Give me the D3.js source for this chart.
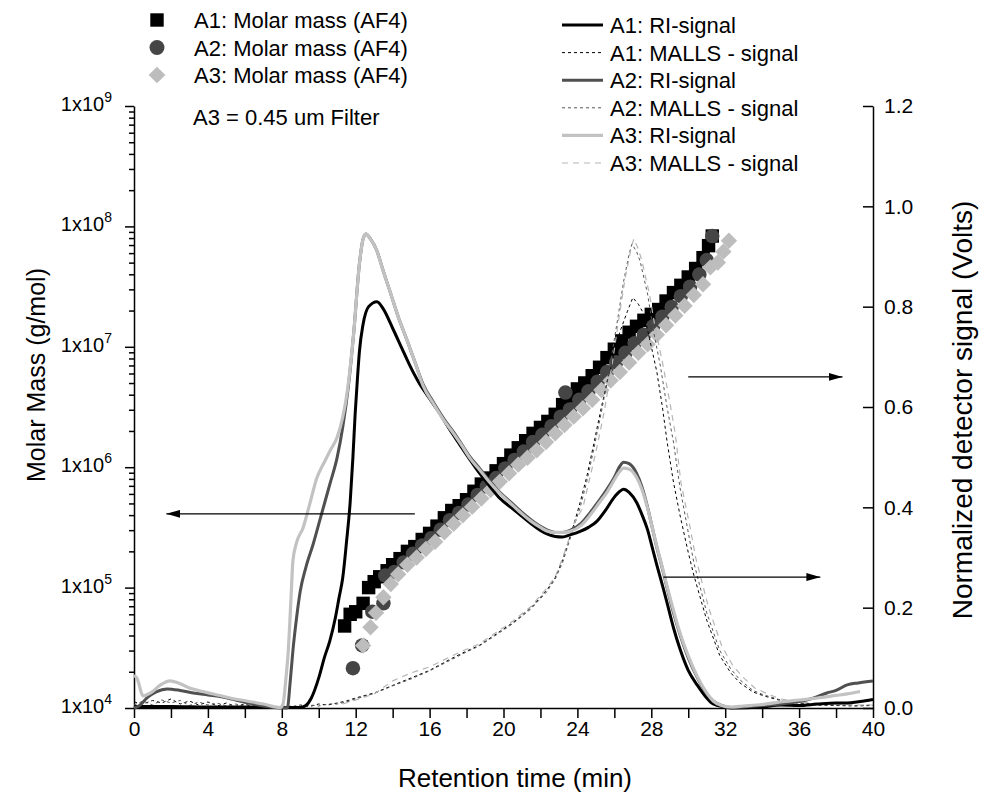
<!DOCTYPE html>
<html><head><meta charset="utf-8">
<script src="https://cdn.jsdelivr.net/npm/d3@7"></script>
<style>body{margin:0;background:#fff}svg{display:block}text{font-family:"Liberation Sans",Arial,sans-serif;fill:#000}</style>
</head><body><svg id="c" width="982" height="803"></svg>
<script>
// ---------- DATA ----------
const xTicks = [0,4,8,12,16,20,24,28,32,36,40];
const rightTicks = [0.0,0.2,0.4,0.6,0.8,1.0,1.2];
const leftExps = [4,5,6,7,8,9];

// Molar mass (AF4) points: [time(min), molar mass (g/mol)]
const massA1 = [[11.4,4.8e4],[11.7,6.0e4],[12.0,6.3e4],[12.4,7.4e4],[12.7,1.0e5],[13.0,1.12e5],[13.3,1.23e5],[13.7,1.38e5],[14.0,1.55e5],[14.4,1.74e5],[14.8,2.0e5],[15.2,2.19e5],[15.6,2.51e5],[16.0,2.82e5],[16.4,3.24e5],[16.8,3.8e5],[17.2,4.37e5],[17.6,4.79e5],[18.0,5.37e5],[18.4,6.31e5],[18.8,7.24e5],[19.2,8.13e5],[19.6,9.33e5],[20.0,1.07e6],[20.4,1.26e6],[20.8,1.45e6],[21.2,1.66e6],[21.6,1.91e6],[22.0,2.14e6],[22.4,2.4e6],[22.8,2.75e6],[23.2,3.31e6],[23.6,3.89e6],[24.0,4.47e6],[24.4,5.01e6],[24.8,5.75e6],[25.2,6.76e6],[25.6,8.13e6],[26.0,9.55e6],[26.4,1.12e7],[26.8,1.32e7],[27.2,1.48e7],[27.6,1.66e7],[28.0,1.86e7],[28.4,2.04e7],[28.8,2.4e7],[29.2,2.82e7],[29.6,3.24e7],[30.0,3.8e7],[30.4,4.47e7],[30.8,5.5e7],[31.1,6.92e7],[31.3,8.32e7]];
const massA2 = [[11.85,2.14e4],[12.35,3.31e4],[12.9,6.31e4],[13.5,7.41e4],[13.6,1.26e5],[14.1,1.35e5],[14.6,1.62e5],[15.1,1.91e5],[15.6,2.24e5],[16.1,2.57e5],[16.6,3.02e5],[17.1,3.63e5],[17.6,4.17e5],[18.1,4.9e5],[18.6,5.89e5],[19.1,6.92e5],[19.6,8.13e5],[20.1,9.77e5],[20.6,1.15e6],[21.1,1.35e6],[21.6,1.62e6],[22.1,1.86e6],[22.6,2.19e6],[23.1,2.63e6],[23.35,4.17e6],[23.6,3.02e6],[24.1,3.63e6],[24.6,4.27e6],[25.1,5.13e6],[25.6,6.17e6],[26.1,7.41e6],[26.6,8.91e6],[27.1,1.07e7],[27.6,1.26e7],[28.1,1.48e7],[28.6,1.78e7],[29.1,2.14e7],[29.6,2.63e7],[30.1,3.16e7],[30.6,3.98e7],[31.0,5.25e7],[31.3,8.32e7]];
const massA3 = [[12.4,3.31e4],[12.8,4.68e4],[13.1,6.17e4],[13.5,8.32e4],[13.9,1.07e5],[14.3,1.29e5],[14.8,1.55e5],[15.3,1.78e5],[15.8,2.09e5],[16.3,2.4e5],[16.8,2.88e5],[17.3,3.39e5],[17.8,3.98e5],[18.3,4.68e5],[18.8,5.5e5],[19.3,6.46e5],[19.8,7.59e5],[20.3,8.91e5],[20.8,1.05e6],[21.3,1.2e6],[21.8,1.38e6],[22.3,1.62e6],[22.8,1.91e6],[23.3,2.24e6],[23.8,2.63e6],[24.3,3.09e6],[24.8,3.63e6],[25.3,4.37e6],[25.8,5.25e6],[26.3,6.17e6],[26.8,7.41e6],[27.3,8.91e6],[27.8,1.05e7],[28.3,1.26e7],[28.8,1.51e7],[29.3,1.82e7],[29.8,2.19e7],[30.3,2.69e7],[30.8,3.31e7],[31.2,4.57e7],[31.6,5.01e7],[31.9,6.17e7],[32.2,7.59e7]];

// RI signals: [time, volts]
const riA1 = [[0,0.003],[2,0.003],[4,0.002],[6,0.002],[8,0.001],[9.0,0.001],[9.3,0.005],[9.6,0.02],[10.0,0.06],[10.3,0.1],[10.6,0.134],[10.9,0.18],[11.1,0.22],[11.3,0.26],[11.5,0.33],[11.7,0.41],[11.85,0.5],[11.97,0.586],[12.1,0.66],[12.2,0.71],[12.4,0.765],[12.7,0.80],[13.15,0.81],[13.5,0.795],[14.0,0.757],[14.5,0.717],[14.9,0.685],[15.4,0.65],[15.9,0.622],[16.5,0.59],[17.0,0.56],[17.65,0.524],[18.2,0.494],[18.7,0.468],[19.3,0.44],[19.8,0.418],[20.5,0.397],[21.0,0.382],[21.5,0.367],[22.0,0.354],[22.35,0.347],[22.8,0.342],[23.2,0.341],[23.6,0.345],[24.15,0.352],[24.6,0.36],[25.05,0.372],[25.5,0.393],[25.95,0.418],[26.3,0.432],[26.5,0.436],[26.8,0.43],[27.2,0.41],[27.5,0.385],[27.8,0.355],[28.05,0.32],[28.3,0.285],[28.6,0.245],[28.85,0.21],[29.2,0.16],[29.55,0.118],[30.0,0.075],[30.5,0.045],[31.0,0.02],[31.35,0.008],[32.0,0.002],[32.3,0.0],[34,0.002],[35,0.006],[36,0.005],[37,0.008],[38,0.01],[38.6,0.01],[39.3,0.013],[40,0.017]];
const riA2 = [[0,0.0],[0.3,0.005],[0.7,0.02],[1.2,0.032],[1.8,0.038],[2.5,0.035],[3.2,0.03],[4.0,0.026],[4.8,0.022],[5.5,0.016],[6.2,0.01],[7.0,0.004],[7.9,0.0],[8.3,0.0],[8.45,0.05],[8.6,0.114],[8.8,0.18],[9.0,0.233],[9.3,0.28],[9.7,0.327],[10.1,0.38],[10.6,0.446],[11.0,0.50],[11.3,0.56],[11.6,0.64],[11.9,0.751],[12.2,0.885],[12.4,0.935],[12.55,0.945],[12.8,0.935],[13.15,0.911],[13.5,0.87],[13.85,0.831],[14.3,0.78],[14.8,0.731],[15.2,0.69],[15.65,0.645],[16.2,0.61],[16.8,0.575],[17.3,0.55],[17.8,0.522],[18.2,0.5],[18.7,0.478],[19.2,0.455],[19.8,0.43],[20.5,0.407],[21.0,0.39],[21.5,0.375],[22.0,0.362],[22.35,0.355],[22.8,0.35],[23.2,0.35],[23.6,0.354],[24.2,0.368],[24.7,0.39],[25.2,0.415],[25.6,0.436],[26.0,0.46],[26.3,0.482],[26.5,0.49],[26.8,0.487],[27.2,0.468],[27.5,0.44],[27.8,0.40],[28.05,0.36],[28.3,0.32],[28.6,0.278],[28.85,0.24],[29.2,0.19],[29.55,0.147],[30.0,0.1],[30.5,0.06],[31.0,0.028],[31.35,0.014],[31.8,0.005],[32.3,0.001],[33,0.002],[34,0.005],[35,0.008],[36,0.013],[36.8,0.02],[37.5,0.03],[38.0,0.035],[38.6,0.046],[39.2,0.05],[40,0.054]];
const riA3 = [[0,0.065],[0.15,0.06],[0.5,0.024],[0.9,0.03],[1.4,0.045],[1.95,0.054],[2.4,0.05],[3.0,0.04],[3.6,0.034],[4.3,0.028],[5.2,0.02],[6.1,0.014],[7.0,0.008],[7.9,0.001],[8.07,0.008],[8.2,0.05],[8.35,0.114],[8.5,0.22],[8.6,0.293],[8.8,0.33],[9.15,0.359],[9.5,0.405],[9.9,0.459],[10.3,0.49],[10.6,0.512],[11.0,0.54],[11.3,0.58],[11.5,0.62],[11.9,0.751],[12.2,0.885],[12.4,0.935],[12.55,0.945],[12.8,0.935],[13.15,0.911],[13.5,0.87],[13.85,0.831],[14.3,0.78],[14.8,0.731],[15.2,0.69],[15.65,0.642],[16.2,0.607],[16.8,0.572],[17.3,0.547],[17.8,0.52],[18.2,0.497],[18.7,0.475],[19.2,0.452],[19.8,0.428],[20.5,0.404],[21.0,0.387],[21.5,0.372],[22.0,0.36],[22.35,0.353],[22.8,0.35],[23.2,0.35],[23.6,0.352],[24.2,0.364],[24.7,0.385],[25.2,0.41],[25.6,0.43],[26.0,0.455],[26.3,0.472],[26.5,0.478],[26.8,0.476],[27.2,0.46],[27.5,0.435],[27.8,0.398],[28.05,0.36],[28.3,0.322],[28.6,0.28],[28.85,0.243],[29.2,0.195],[29.55,0.15],[30.0,0.104],[30.5,0.062],[31.0,0.03],[31.35,0.014],[31.8,0.005],[32.3,0.002],[33,0.004],[34,0.007],[35,0.012],[36,0.016],[37,0.02],[38,0.025],[38.6,0.028],[39.3,0.033]];

// MALLS signals: [time, volts]
const mallsA1 = [[0,0.012],[0.5,0.008],[1,0.015],[1.5,0.01],[2,0.018],[2.5,0.008],[3,0.014],[3.5,0.006],[4,0.012],[4.5,0.004],[5,0.01],[5.5,0.003],[6,0.008],[6.5,0.002],[7,0.006],[7.5,0.001],[8,0.004],[8.5,0.002],[9,0.006],[9.5,0.003],[10,0.008],[10.5,0.006],[11,0.01],[11.5,0.014],[12,0.02],[13,0.03],[14,0.045],[15,0.06],[16,0.075],[17,0.095],[17.8,0.11],[18.7,0.125],[19.5,0.145],[20.5,0.17],[21.5,0.2],[22.35,0.235],[22.8,0.26],[23.2,0.295],[23.5,0.33],[23.8,0.365],[24.15,0.41],[24.5,0.46],[24.85,0.52],[25.3,0.6],[25.8,0.68],[26.3,0.75],[26.7,0.79],[27.0,0.818],[27.3,0.805],[27.6,0.785],[27.9,0.737],[28.3,0.67],[28.6,0.6],[28.85,0.532],[29.2,0.45],[29.55,0.385],[30.0,0.31],[30.3,0.265],[31.0,0.175],[31.7,0.105],[32.3,0.07],[32.8,0.05],[33.5,0.032],[34.1,0.024],[35,0.015],[35.9,0.01],[37,0.006],[38,0.005],[39,0.004],[40,0.005]];
const mallsA2 = [[0,0.006],[0.5,0.014],[1,0.006],[1.5,0.016],[2,0.01],[2.5,0.015],[3,0.005],[3.5,0.012],[4,0.006],[4.5,0.01],[5,0.004],[5.5,0.008],[6,0.003],[6.5,0.006],[7,0.002],[7.5,0.005],[8,0.001],[8.5,0.004],[9,0.002],[9.5,0.006],[10,0.004],[10.5,0.008],[11,0.008],[11.5,0.012],[12,0.018],[13,0.029],[14,0.044],[15,0.058],[16,0.074],[17,0.093],[17.8,0.108],[18.7,0.124],[19.5,0.143],[20.5,0.168],[21.5,0.198],[22.35,0.232],[22.8,0.257],[23.2,0.29],[23.5,0.325],[23.8,0.36],[24.15,0.40],[24.5,0.45],[24.85,0.51],[25.3,0.59],[25.8,0.69],[26.2,0.78],[26.5,0.85],[26.8,0.905],[26.95,0.925],[27.2,0.91],[27.4,0.89],[27.8,0.825],[28.1,0.755],[28.5,0.68],[28.85,0.6],[29.2,0.53],[29.55,0.44],[30.0,0.35],[30.3,0.29],[31.0,0.19],[31.7,0.115],[32.3,0.078],[32.8,0.056],[33.5,0.035],[34.1,0.026],[35,0.016],[36,0.01],[37,0.007],[38,0.006],[39,0.005],[40,0.006]];
const mallsA3 = [[11.3,0.008],[12,0.016],[13,0.028],[14,0.054],[15,0.07],[16,0.082],[17,0.1],[17.8,0.114],[18.7,0.128],[19.5,0.148],[20.5,0.173],[21.5,0.203],[22.35,0.239],[22.8,0.262],[23.2,0.299],[23.5,0.332],[23.8,0.367],[24.3,0.40],[25.0,0.51],[25.45,0.59],[25.9,0.69],[26.3,0.79],[26.6,0.86],[26.9,0.915],[27.05,0.935],[27.3,0.915],[27.5,0.89],[27.9,0.825],[28.2,0.76],[28.6,0.69],[29.0,0.61],[29.3,0.546],[29.6,0.45],[30.1,0.36],[30.4,0.30],[31.1,0.2],[31.8,0.125],[32.4,0.085],[33,0.06],[33.6,0.04],[34.3,0.028],[35,0.018],[36,0.012],[37,0.009],[38,0.007],[39,0.006],[40,0.006]];

// Arrow annotations [t1, v1, t2, v2] (head at second point, right-axis units)
const arrows = [[15.2,0.387,1.75,0.387],[28.65,0.261,37.15,0.261],[30.0,0.66,38.35,0.66]];

// ---------- CHART ----------
const svg = d3.select("#c");
const X0=134, X1=873, YT=106, YB=708;
const x = d3.scaleLinear().domain([0,40]).range([X0,X1]);
const yL = d3.scaleLog().domain([1e4,1e9]).range([YB,YT]);
const yR = d3.scaleLinear().domain([0,1.2]).range([YB,YT]);

// axes
const gx = svg.append("g").attr("transform",`translate(0,${YB})`)
  .call(d3.axisBottom(x).tickValues(d3.range(0,41,2)).tickSizeInner(10).tickSizeOuter(0).tickPadding(3)
    .tickFormat(d=> xTicks.includes(d)? String(d):""));
gx.selectAll("text").style("font-size","21px");

// left log axis
const minorL=[]; for(let e=4;e<9;e++) for(let m=2;m<=9;m++) minorL.push(m*Math.pow(10,e));
const gl = svg.append("g").attr("transform",`translate(${X0},0)`);
gl.call(d3.axisLeft(yL).tickValues(minorL).tickSizeInner(5).tickSizeOuter(0).tickFormat(""));
gl.call(g=>g.select(".domain").remove());
svg.append("g").attr("transform",`translate(${X0},0)`)
  .call(d3.axisLeft(yL).tickValues(leftExps.map(e=>Math.pow(10,e))).tickSizeInner(9).tickSizeOuter(0).tickFormat(""));
leftExps.forEach(e=>{
  const t = svg.append("text").attr("x",112).attr("y",yL(Math.pow(10,e))+5).attr("text-anchor","end").style("font-size","20px");
  t.append("tspan").text("1x10");
  t.append("tspan").attr("dy",-9).style("font-size","14px").text(String(e));
});

// right axis
const gr = svg.append("g").attr("transform",`translate(${X1},0)`);
gr.call(d3.axisRight(yR).tickValues(d3.range(0,1.21,0.1)).tickSizeInner(-5).tickSizeOuter(0).tickFormat(""));
gr.call(d3.axisRight(yR).tickValues(rightTicks).tickSizeInner(-10).tickSizeOuter(0).tickPadding(11).tickFormat(d3.format(".1f")));
gr.selectAll("text").style("font-size","21px");
svg.selectAll("g line, g path").attr("stroke","#000").attr("stroke-width",1.5);

// markers
const colA1="#000", colA2="#454545", colA3="#bdbdbd";
const sym = (type,size)=>d3.symbol().type(type).size(size)();
function drawMarkers(data,type,size,col,rot){
  svg.append("g").selectAll("path").data(data).join("path")
    .attr("d",sym(type,size)).attr("fill",col)
    .attr("transform",d=>`translate(${x(d[0])},${yL(d[1])})${rot?" rotate(45)":""}`);
}
drawMarkers(massA1,d3.symbolSquare,180,colA1);
drawMarkers(massA2,d3.symbolCircle,165,colA2);
drawMarkers(massA3,d3.symbolSquare,135,colA3,true);

// lines
const line = d3.line().x(d=>x(d[0])).y(d=>yR(d[1])).curve(d3.curveMonotoneX);
const lineL = d3.line().x(d=>x(d[0])).y(d=>yR(d[1]));
function drawLine(data,col,w,dash,gen){
  svg.append("path").datum(data).attr("d",(gen||line)(data)).attr("fill","none")
    .attr("stroke",col).attr("stroke-width",w).attr("stroke-dasharray",dash||null).attr("stroke-linejoin","round");
}
drawLine(mallsA1,"#000",1,"3,3",lineL);
drawLine(mallsA2,"#555",1,"3,3",lineL);
drawLine(mallsA3,"#b5b5b5",1.2,"6,5",lineL);
drawLine(riA1,colA1,3);
drawLine(riA2,"#505050",3);
drawLine(riA3,"#c2c2c2",3.2);

// arrows
const defs = svg.append("defs");
defs.append("marker").attr("id","ah").attr("viewBox","0 0 14 8").attr("refX",14).attr("refY",4)
  .attr("markerWidth",14).attr("markerHeight",8).attr("markerUnits","userSpaceOnUse").attr("orient","auto")
  .append("path").attr("d","M0,0L14,4L0,8Z").attr("fill","#000");
arrows.forEach(a=>{
  svg.append("line").attr("x1",x(a[0])).attr("y1",yR(a[1])).attr("x2",x(a[2])).attr("y2",yR(a[3]))
    .attr("stroke","#000").attr("stroke-width",1.2).attr("marker-end","url(#ah)");
});

// axis titles
svg.append("text").attr("x",515).attr("y",787).attr("text-anchor","middle").style("font-size","26px").text("Retention time (min)");
svg.append("text").attr("transform","translate(45,375) rotate(-90)").attr("text-anchor","middle").style("font-size","25px").text("Molar Mass (g/mol)");
svg.append("text").attr("transform","translate(972,410) rotate(-90)").attr("text-anchor","middle").style("font-size","28px").text("Normalized detector signal (Volts)");

// left legend
const legL = [["A1: Molar mass (AF4)",d3.symbolSquare,180,colA1,false],["A2: Molar mass (AF4)",d3.symbolCircle,175,colA2,false],["A3: Molar mass (AF4)",d3.symbolSquare,140,colA3,true]];
legL.forEach((d,i)=>{
  const yy = 20+i*27.5;
  svg.append("path").attr("d",sym(d[1],d[2])).attr("fill",d[3]).attr("transform",`translate(157,${yy})${d[4]?" rotate(45)":""}`);
  svg.append("text").attr("x",194).attr("y",yy+8).style("font-size","22px").text(d[0]);
});
svg.append("text").attr("x",193).attr("y",125).style("font-size","22px").text("A3 = 0.45 um Filter");

// right legend
const legR = [["A1: RI-signal","#000",3,null],["A1: MALLS - signal","#000",1,"3,3"],["A2: RI-signal","#505050",3,null],["A2: MALLS - signal","#555",1,"3,3"],["A3: RI-signal","#c2c2c2",3.2,null],["A3: MALLS - signal","#b5b5b5",1.2,"6,5"]];
legR.forEach((d,i)=>{
  const yy = 25+i*27.6;
  svg.append("line").attr("x1",562).attr("x2",603).attr("y1",yy).attr("y2",yy)
    .attr("stroke",d[1]).attr("stroke-width",d[2]).attr("stroke-dasharray",d[3]);
  svg.append("text").attr("x",610).attr("y",yy+8).style("font-size","22px").text(d[0]);
});
</script></body></html>
